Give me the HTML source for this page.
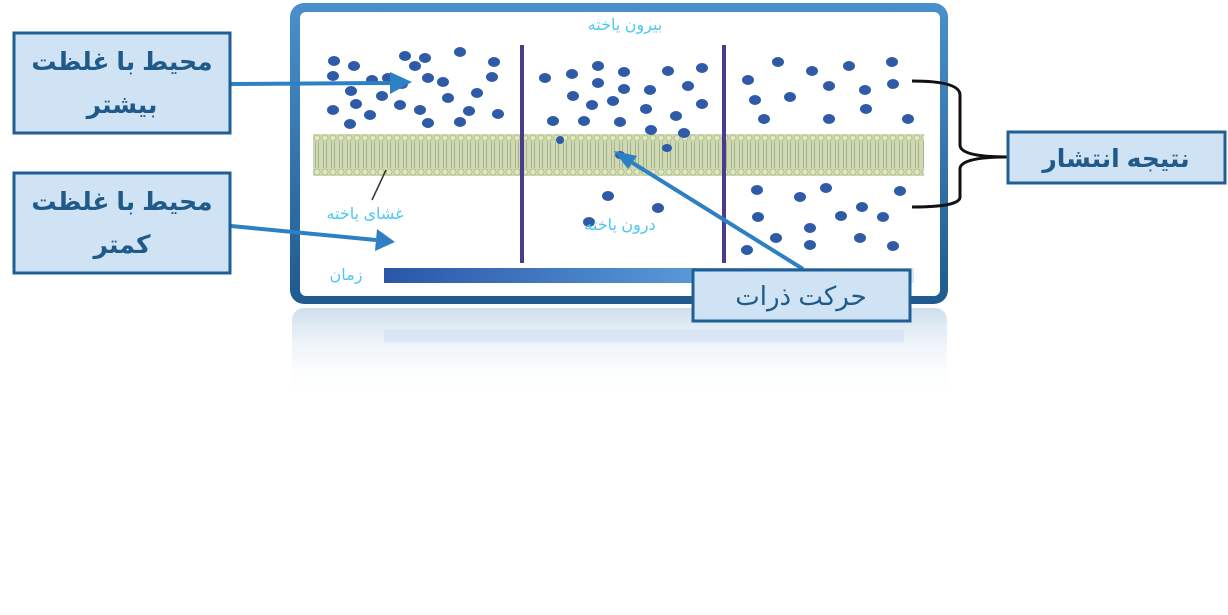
<!DOCTYPE html>
<html><head><meta charset="utf-8"><style>
html,body{margin:0;padding:0;background:#fff;}
svg{display:block;}
text{font-family:"Liberation Sans","DejaVu Sans","Noto Sans CJK SC",sans-serif;}
</style></head><body>
<svg width="1228" height="615" viewBox="0 0 1228 615" xmlns="http://www.w3.org/2000/svg">
<defs>
<linearGradient id="bar" x1="0" x2="1"><stop offset="0" stop-color="#2a56a8"/><stop offset="0.6" stop-color="#5a9ad8"/><stop offset="1" stop-color="#d8e8f8"/></linearGradient>
<linearGradient id="frame" x1="0" y1="0" x2="0" y2="1"><stop offset="0" stop-color="#4a90cc"/><stop offset="1" stop-color="#1f5a8e"/></linearGradient>
<linearGradient id="refl" x1="0" y1="0" x2="0" y2="1"><stop offset="0" stop-color="#c8dcec" stop-opacity="0.9"/><stop offset="1" stop-color="#fff" stop-opacity="0"/></linearGradient>
<pattern id="mem" x="313" y="134" width="8" height="42" patternUnits="userSpaceOnUse">
<rect width="8" height="42" fill="#cfd9b2"/>
<circle cx="4" cy="4" r="3" fill="#dfe8c0" stroke="#aab884" stroke-width="0.8"/>
<circle cx="4" cy="38" r="3" fill="#dfe8c0" stroke="#aab884" stroke-width="0.8"/>
<line x1="2.5" y1="8" x2="2.5" y2="34" stroke="#9aa888" stroke-width="0.8"/>
<line x1="5.5" y1="8" x2="5.5" y2="34" stroke="#9aa888" stroke-width="0.8"/>
</pattern>
</defs>
<rect x="292" y="308" width="655" height="90" rx="12" fill="url(#refl)"/>
<rect x="384" y="330" width="520" height="12" fill="#d4e2f2" opacity="0.8"/>
<rect x="290" y="3" width="658" height="301" rx="14" fill="url(#frame)"/>
<rect x="300" y="12" width="640" height="284" rx="6" fill="#fff"/>
<rect x="313" y="134" width="611" height="42" fill="url(#mem)"/>
<line x1="522" y1="45" x2="522" y2="263" stroke="#4b3b8c" stroke-width="4"/>
<line x1="724" y1="45" x2="724" y2="263" stroke="#4b3b8c" stroke-width="4"/>
<rect x="384" y="268" width="530" height="15" fill="url(#bar)"/>
<g fill="#2f5aa8">
<ellipse cx="333" cy="76" rx="6" ry="5"/><ellipse cx="354" cy="66" rx="6" ry="5"/><ellipse cx="372" cy="80" rx="6" ry="5"/><ellipse cx="351" cy="91" rx="6" ry="5"/><ellipse cx="333" cy="110" rx="6" ry="5"/><ellipse cx="356" cy="104" rx="6" ry="5"/><ellipse cx="382" cy="96" rx="6" ry="5"/><ellipse cx="370" cy="115" rx="6" ry="5"/><ellipse cx="350" cy="124" rx="6" ry="5"/><ellipse cx="400" cy="105" rx="6" ry="5"/><ellipse cx="415" cy="66" rx="6" ry="5"/><ellipse cx="428" cy="78" rx="6" ry="5"/><ellipse cx="402" cy="84" rx="6" ry="5"/><ellipse cx="388" cy="78" rx="6" ry="5"/><ellipse cx="460" cy="52" rx="6" ry="5"/><ellipse cx="443" cy="82" rx="6" ry="5"/><ellipse cx="477" cy="93" rx="6" ry="5"/><ellipse cx="492" cy="77" rx="6" ry="5"/><ellipse cx="494" cy="62" rx="6" ry="5"/><ellipse cx="448" cy="98" rx="6" ry="5"/><ellipse cx="469" cy="111" rx="6" ry="5"/><ellipse cx="428" cy="123" rx="6" ry="5"/><ellipse cx="460" cy="122" rx="6" ry="5"/><ellipse cx="498" cy="114" rx="6" ry="5"/><ellipse cx="420" cy="110" rx="6" ry="5"/><ellipse cx="405" cy="56" rx="6" ry="5"/><ellipse cx="334" cy="61" rx="6" ry="5"/><ellipse cx="425" cy="58" rx="6" ry="5"/>
<ellipse cx="545" cy="78" rx="6" ry="5"/><ellipse cx="572" cy="74" rx="6" ry="5"/><ellipse cx="598" cy="66" rx="6" ry="5"/><ellipse cx="624" cy="72" rx="6" ry="5"/><ellipse cx="668" cy="71" rx="6" ry="5"/><ellipse cx="702" cy="68" rx="6" ry="5"/><ellipse cx="573" cy="96" rx="6" ry="5"/><ellipse cx="598" cy="83" rx="6" ry="5"/><ellipse cx="624" cy="89" rx="6" ry="5"/><ellipse cx="650" cy="90" rx="6" ry="5"/><ellipse cx="688" cy="86" rx="6" ry="5"/><ellipse cx="702" cy="104" rx="6" ry="5"/><ellipse cx="592" cy="105" rx="6" ry="5"/><ellipse cx="613" cy="101" rx="6" ry="5"/><ellipse cx="646" cy="109" rx="6" ry="5"/><ellipse cx="676" cy="116" rx="6" ry="5"/><ellipse cx="553" cy="121" rx="6" ry="5"/><ellipse cx="584" cy="121" rx="6" ry="5"/><ellipse cx="620" cy="122" rx="6" ry="5"/><ellipse cx="651" cy="130" rx="6" ry="5"/><ellipse cx="684" cy="133" rx="6" ry="5"/>
<ellipse cx="560" cy="140" rx="4" ry="4"/><ellipse cx="667" cy="148" rx="5" ry="4"/><ellipse cx="620" cy="155" rx="5" ry="4"/>
<ellipse cx="608" cy="196" rx="6" ry="5"/><ellipse cx="658" cy="208" rx="6" ry="5"/><ellipse cx="589" cy="222" rx="6" ry="5"/>
<ellipse cx="755" cy="100" rx="6" ry="5"/><ellipse cx="778" cy="62" rx="6" ry="5"/><ellipse cx="812" cy="71" rx="6" ry="5"/><ellipse cx="849" cy="66" rx="6" ry="5"/><ellipse cx="892" cy="62" rx="6" ry="5"/><ellipse cx="893" cy="84" rx="6" ry="5"/><ellipse cx="829" cy="86" rx="6" ry="5"/><ellipse cx="865" cy="90" rx="6" ry="5"/><ellipse cx="790" cy="97" rx="6" ry="5"/><ellipse cx="748" cy="80" rx="6" ry="5"/><ellipse cx="764" cy="119" rx="6" ry="5"/><ellipse cx="829" cy="119" rx="6" ry="5"/><ellipse cx="866" cy="109" rx="6" ry="5"/><ellipse cx="908" cy="119" rx="6" ry="5"/>
<ellipse cx="757" cy="190" rx="6" ry="5"/><ellipse cx="800" cy="197" rx="6" ry="5"/><ellipse cx="826" cy="188" rx="6" ry="5"/><ellipse cx="900" cy="191" rx="6" ry="5"/><ellipse cx="862" cy="207" rx="6" ry="5"/><ellipse cx="841" cy="216" rx="6" ry="5"/><ellipse cx="758" cy="217" rx="6" ry="5"/><ellipse cx="810" cy="228" rx="6" ry="5"/><ellipse cx="776" cy="238" rx="6" ry="5"/><ellipse cx="860" cy="238" rx="6" ry="5"/><ellipse cx="893" cy="246" rx="6" ry="5"/><ellipse cx="810" cy="245" rx="6" ry="5"/><ellipse cx="747" cy="250" rx="6" ry="5"/><ellipse cx="883" cy="217" rx="6" ry="5"/>
</g>
<g fill="#4cc8f4" font-size="16" text-anchor="middle" direction="rtl">
<text x="625" y="30">بیرون یاخته</text>
<text x="620" y="230">درون یاخته</text>
<text x="365" y="219">غشای یاخته</text>
<text x="346" y="280">زمان</text>
</g>
<line x1="386" y1="170" x2="372" y2="200" stroke="#333" stroke-width="1.5"/>
<path d="M912 81 Q960 81 960 95 L960 145 Q960 157 1007 157 Q960 157 960 169 L960 197 Q960 207 912 207" fill="none" stroke="#111" stroke-width="3"/>
<g stroke="#2e80c4" stroke-width="4" fill="#2e80c4">
<line x1="231" y1="84" x2="392" y2="83"/>
<polygon points="412,82 390,72 390,94" stroke="none"/>
<line x1="231" y1="226" x2="376" y2="240"/>
<polygon points="395,242 377,229 375,251" stroke="none"/>
<line x1="803" y1="269" x2="628" y2="160"/>
<polygon points="614,151 637,156 628,169" stroke="none"/>
</g>
<g fill="#cfe3f4" stroke="#1f5f96" stroke-width="3">
<rect x="14" y="33" width="216" height="100"/>
<rect x="14" y="173" width="216" height="100"/>
<rect x="1008" y="132" width="217" height="51"/>
<rect x="693" y="270" width="217" height="51"/>
</g>
<g fill="#1f5a8a" font-weight="bold" font-size="25" text-anchor="middle" direction="rtl">
<text x="122" y="70">محیط با غلظت</text>
<text x="122" y="113">بیشتر</text>
<text x="122" y="210">محیط با غلظت</text>
<text x="122" y="253">کمتر</text>
<text x="1116" y="167">نتیجه انتشار</text>
<text x="801" y="305" font-weight="normal" font-size="26">حرکت ذرات</text>
</g>
</svg>
</body></html>
